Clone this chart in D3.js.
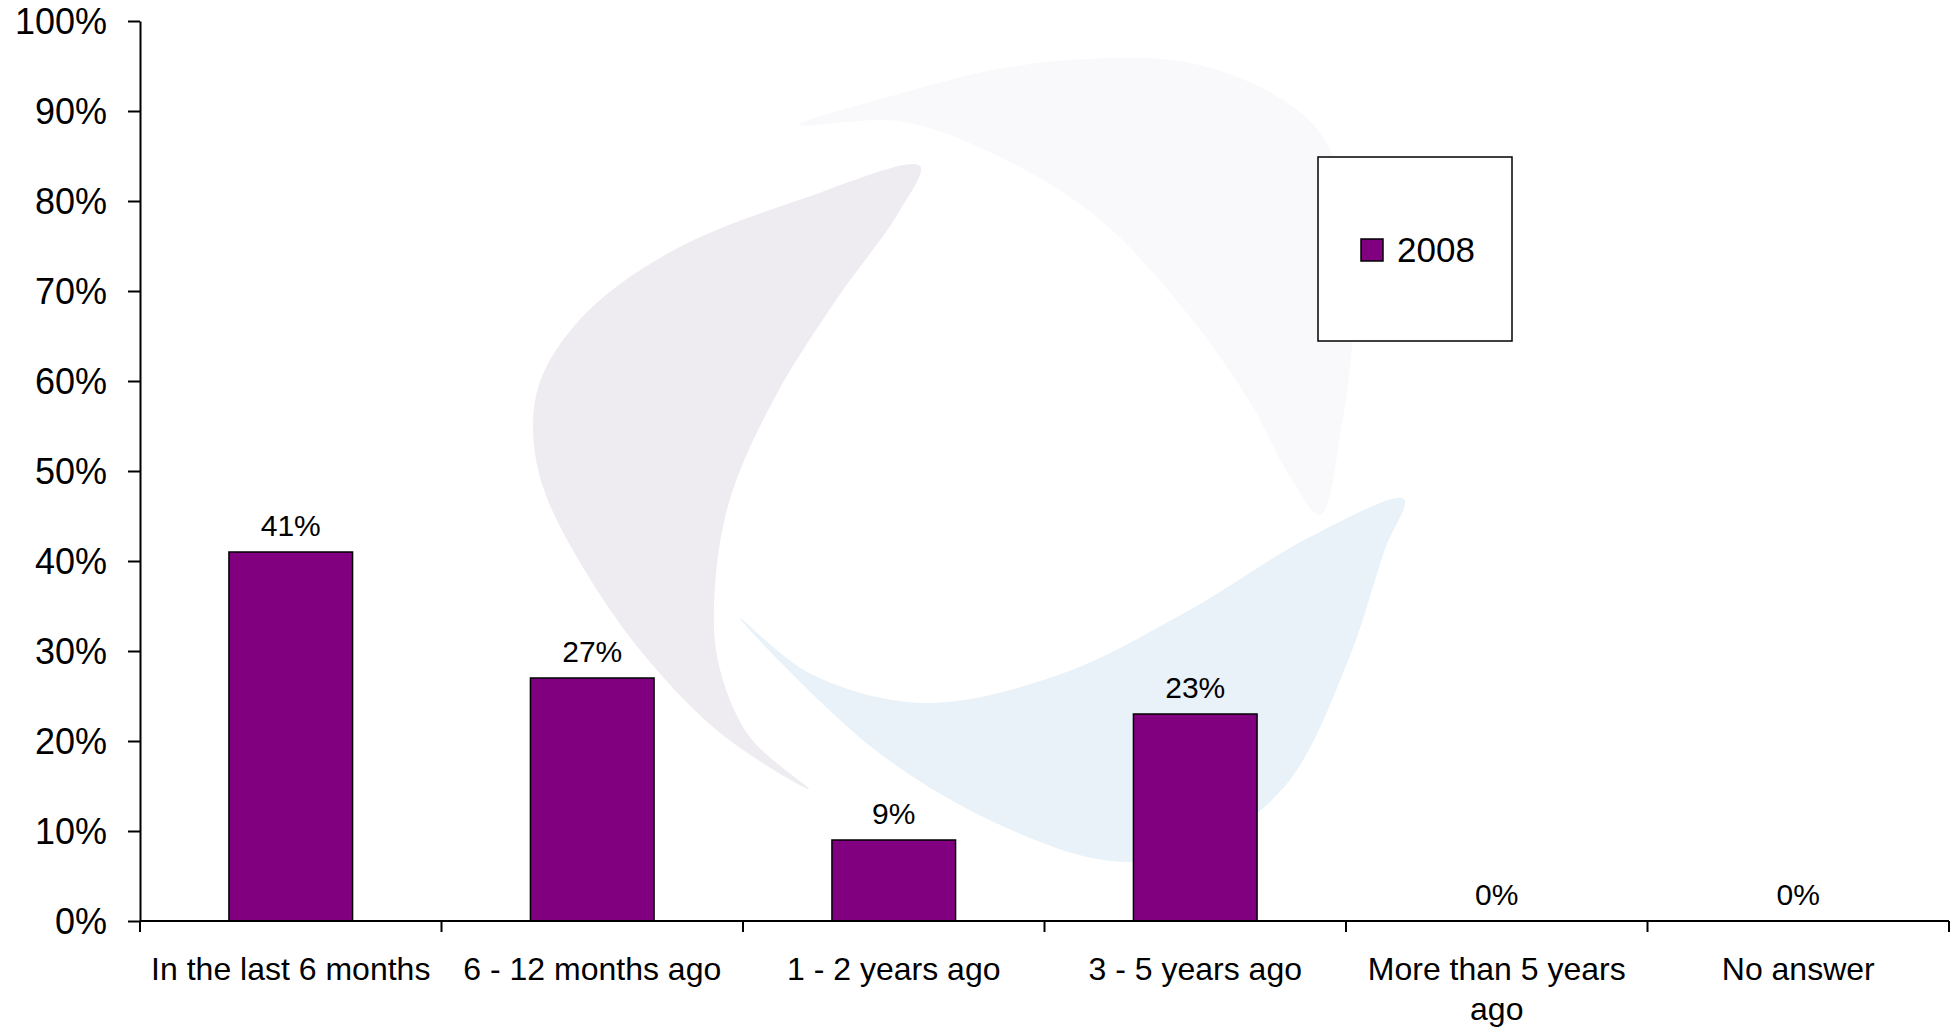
<!DOCTYPE html>
<html>
<head>
<meta charset="utf-8">
<script src="https://cdn.jsdelivr.net/npm/d3@7"></script>
<style>
  html, body { margin: 0; padding: 0; background: #ffffff; }
  svg { display: block; }
  text { font-family: "Liberation Sans", Arial, sans-serif; fill: #000; }
</style>
</head>
<body>
<svg id="chart" width="1957" height="1027"></svg>
<script>
// ---- data ----
const categories = ["In the last 6 months", "6 - 12 months ago", "1 - 2 years ago", "3 - 5 years ago", "More than 5 years ago", "No answer"];
const values2008 = [41, 27, 9, 23, 0, 0];
const seriesName = "2008";
const yTicks = [0, 10, 20, 30, 40, 50, 60, 70, 80, 90, 100];

// ---- decorative watermark (background logo, not data) ----
const logoShapes = [
  { fill: "#eeecf1", pts: [[920,166],[799,200],[674,250],[587,312],[543,374],[533,424],[543,487],[587,574],[649,661],[724,736],[809,789],[749,736],[718,661],[715,587],[730,499],[774,399],[836,300],[899,212]] },
  { fill: "#f9f8fb", pts: [[799,125],[899,94],[998,69],[1086,59],[1186,62],[1273,94],[1323,137],[1348,212],[1354,312],[1342,424],[1320,515],[1292,480],[1248,399],[1186,312],[1098,218],[998,156],[899,121]] },
  { fill: "#e9f2f8", pts: [[740,618],[874,749],[998,824],[1111,861],[1198,849],[1285,786],[1348,661],[1385,549],[1404,499],[1310,537],[1186,612],[1061,674],[924,703],[811,674]] }
];

(function () {
// ---- layout ----
const svg = d3.select("#chart");
const mLeft = 140, mRight = 1949, mTop = 21, mBottom = 921;

const x = d3.scaleBand().domain(categories).range([mLeft, mRight]).padding(0);
const y = d3.scaleLinear().domain([0, 100]).range([mBottom, mTop]);
const barRatio = 0.41;

// watermark
const lineGen = d3.line().curve(d3.curveCatmullRomClosed.alpha(0.5));
svg.append("g").selectAll("path").data(logoShapes).join("path")
  .attr("d", d => lineGen(d.pts))
  .attr("fill", d => d.fill);

// y axis
const yAxis = d3.axisLeft(y)
  .tickValues(yTicks)
  .tickSize(12)
  .tickSizeOuter(0)
  .tickPadding(21)
  .tickFormat(d => d + "%");
const gy = svg.append("g").attr("transform", `translate(${mLeft},0)`).call(yAxis);
gy.select(".domain").attr("stroke", "#000").attr("stroke-width", 2);
gy.selectAll(".tick line").attr("stroke", "#000").attr("stroke-width", 2);
gy.selectAll(".tick text")
  .attr("font-family", "'Liberation Sans', Arial, sans-serif")
  .attr("font-size", 36)
  .attr("fill", "#000")
  .attr("dy", "0.36em");

// bars
const bw = x.bandwidth() * barRatio;
svg.append("g").selectAll("rect").data(categories).join("rect")
  .attr("x", (d) => x(d) + (x.bandwidth() - bw) / 2)
  .attr("y", (d, i) => y(values2008[i]))
  .attr("width", bw)
  .attr("height", (d, i) => y(0) - y(values2008[i]))
  .attr("fill", "#800080")
  .attr("stroke", "#000")
  .attr("stroke-width", 1.5);

// value labels
svg.append("g").selectAll("text").data(categories).join("text")
  .attr("x", d => x(d) + x.bandwidth() / 2)
  .attr("y", (d, i) => y(values2008[i]) - 16)
  .attr("text-anchor", "middle")
  .attr("font-size", 30)
  .text((d, i) => values2008[i] + "%");

// x axis line and ticks at category boundaries
const gx = svg.append("g");
gx.append("line")
  .attr("x1", mLeft).attr("x2", mRight)
  .attr("y1", y(0)).attr("y2", y(0))
  .attr("stroke", "#000").attr("stroke-width", 2);
const bounds = categories.map(c => x(c)).concat([x(categories[categories.length - 1]) + x.bandwidth()]);
gx.selectAll("line.tk").data(bounds).join("line")
  .attr("class", "tk")
  .attr("x1", d => d).attr("x2", d => d)
  .attr("y1", y(0)).attr("y2", y(0) + 11)
  .attr("stroke", "#000").attr("stroke-width", 2);

// x labels with wrapping
const maxW = x.bandwidth() - 12;
categories.forEach(c => {
  const cx = x(c) + x.bandwidth() / 2;
  const t = gx.append("text")
    .attr("x", cx)
    .attr("y", 980)
    .attr("text-anchor", "middle")
    .attr("font-size", 32);
  const words = c.split(" ");
  let line = [];
  let tspan = t.append("tspan").attr("x", cx).attr("dy", 0);
  words.forEach(w => {
    line.push(w);
    tspan.text(line.join(" "));
    if (tspan.node().getComputedTextLength() > maxW && line.length > 1) {
      line.pop();
      tspan.text(line.join(" "));
      line = [w];
      tspan = t.append("tspan").attr("x", cx).attr("dy", 40).text(w);
    }
  });
});

// legend
const lg = svg.append("g");
lg.append("rect")
  .attr("x", 1318).attr("y", 157).attr("width", 194).attr("height", 184)
  .attr("fill", "#fff").attr("stroke", "#000").attr("stroke-width", 1.5);
lg.append("rect")
  .attr("x", 1361).attr("y", 239).attr("width", 22).attr("height", 22)
  .attr("fill", "#800080").attr("stroke", "#000").attr("stroke-width", 1.5);
lg.append("text")
  .attr("x", 1397).attr("y", 262)
  .attr("font-size", 35)
  .text(seriesName);
})();
</script>
</body>
</html>
